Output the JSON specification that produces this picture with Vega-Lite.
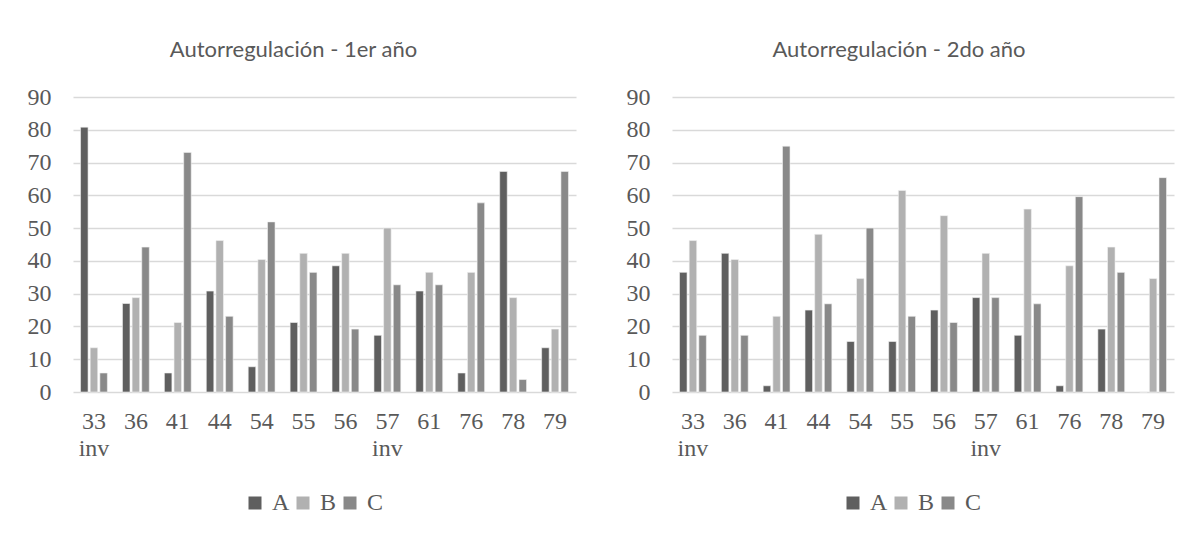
{
  "$schema": "https://vega.github.io/schema/vega-lite/v6.json",
  "background": "white",
  "padding": {"left": 27, "top": 39, "right": 10, "bottom": 0},
  "datasets": {
    "d1": [
      {"cat": "33 inv", "serie": "A", "value": 80.8}, {"cat": "33 inv", "serie": "B", "value": 13.5}, {"cat": "33 inv", "serie": "C", "value": 5.8},
      {"cat": "36", "serie": "A", "value": 27.0}, {"cat": "36", "serie": "B", "value": 28.8}, {"cat": "36", "serie": "C", "value": 44.2},
      {"cat": "41", "serie": "A", "value": 5.8}, {"cat": "41", "serie": "B", "value": 21.2}, {"cat": "41", "serie": "C", "value": 73.1},
      {"cat": "44", "serie": "A", "value": 30.8}, {"cat": "44", "serie": "B", "value": 46.2}, {"cat": "44", "serie": "C", "value": 23.1},
      {"cat": "54", "serie": "A", "value": 7.7}, {"cat": "54", "serie": "B", "value": 40.4}, {"cat": "54", "serie": "C", "value": 51.9},
      {"cat": "55", "serie": "A", "value": 21.2}, {"cat": "55", "serie": "B", "value": 42.3}, {"cat": "55", "serie": "C", "value": 36.5},
      {"cat": "56", "serie": "A", "value": 38.5}, {"cat": "56", "serie": "B", "value": 42.3}, {"cat": "56", "serie": "C", "value": 19.2},
      {"cat": "57 inv", "serie": "A", "value": 17.3}, {"cat": "57 inv", "serie": "B", "value": 50.0}, {"cat": "57 inv", "serie": "C", "value": 32.7},
      {"cat": "61", "serie": "A", "value": 30.8}, {"cat": "61", "serie": "B", "value": 36.5}, {"cat": "61", "serie": "C", "value": 32.7},
      {"cat": "76", "serie": "A", "value": 5.8}, {"cat": "76", "serie": "B", "value": 36.5}, {"cat": "76", "serie": "C", "value": 57.7},
      {"cat": "78", "serie": "A", "value": 67.3}, {"cat": "78", "serie": "B", "value": 28.8}, {"cat": "78", "serie": "C", "value": 3.8},
      {"cat": "79", "serie": "A", "value": 13.5}, {"cat": "79", "serie": "B", "value": 19.2}, {"cat": "79", "serie": "C", "value": 67.3}
    ],
    "d2": [
      {"cat": "33 inv", "serie": "A", "value": 36.5}, {"cat": "33 inv", "serie": "B", "value": 46.2}, {"cat": "33 inv", "serie": "C", "value": 17.3},
      {"cat": "36", "serie": "A", "value": 42.3}, {"cat": "36", "serie": "B", "value": 40.4}, {"cat": "36", "serie": "C", "value": 17.3},
      {"cat": "41", "serie": "A", "value": 1.9}, {"cat": "41", "serie": "B", "value": 23.1}, {"cat": "41", "serie": "C", "value": 75.0},
      {"cat": "44", "serie": "A", "value": 25.0}, {"cat": "44", "serie": "B", "value": 48.1}, {"cat": "44", "serie": "C", "value": 26.9},
      {"cat": "54", "serie": "A", "value": 15.4}, {"cat": "54", "serie": "B", "value": 34.6}, {"cat": "54", "serie": "C", "value": 50.0},
      {"cat": "55", "serie": "A", "value": 15.4}, {"cat": "55", "serie": "B", "value": 61.5}, {"cat": "55", "serie": "C", "value": 23.1},
      {"cat": "56", "serie": "A", "value": 25.0}, {"cat": "56", "serie": "B", "value": 53.8}, {"cat": "56", "serie": "C", "value": 21.2},
      {"cat": "57 inv", "serie": "A", "value": 28.8}, {"cat": "57 inv", "serie": "B", "value": 42.3}, {"cat": "57 inv", "serie": "C", "value": 28.8},
      {"cat": "61", "serie": "A", "value": 17.3}, {"cat": "61", "serie": "B", "value": 55.8}, {"cat": "61", "serie": "C", "value": 26.9},
      {"cat": "76", "serie": "A", "value": 1.9}, {"cat": "76", "serie": "B", "value": 38.5}, {"cat": "76", "serie": "C", "value": 59.6},
      {"cat": "78", "serie": "A", "value": 19.2}, {"cat": "78", "serie": "B", "value": 44.2}, {"cat": "78", "serie": "C", "value": 36.5},
      {"cat": "79", "serie": "A", "value": 0}, {"cat": "79", "serie": "B", "value": 34.6}, {"cat": "79", "serie": "C", "value": 65.4}
    ]
  },
  "hconcat": [
    {
      "data": {"name": "d1"},
      "width": 503,
      "height": 295,
      "title": {"text": "Autorregulación - 1er año", "dx": -31},
      "mark": {"type": "bar", "stroke": "#f2f2f2", "strokeWidth": 0.6},
      "encoding": {
        "x": {"field": "cat", "type": "nominal", "sort": null, "title": null,
              "scale": {"paddingInner": 0.36, "paddingOuter": 0.18},
              "axis": {"labelExpr": "split(datum.label, ' ')", "labelAngle": 0}},
        "xOffset": {"field": "serie", "type": "nominal", "scale": {"paddingInner": 0.22, "paddingOuter": 0}},
        "y": {"field": "value", "type": "quantitative", "title": null,
              "scale": {"domain": [0, 90]},
              "axis": {"values": [0, 10, 20, 30, 40, 50, 60, 70, 80, 90]}},
        "color": {"field": "serie", "type": "nominal",
                  "scale": {"domain": ["A", "B", "C"], "range": ["#5f5f5f", "#b1b1b1", "#898989"]},
                  "legend": {"orient": "none", "legendX": 170, "legendY": 394}}
      }
    },
    {
      "data": {"name": "d2"},
      "width": 502,
      "height": 295,
      "title": {"text": "Autorregulación - 2do año", "dx": -24},
      "mark": {"type": "bar", "stroke": "#f2f2f2", "strokeWidth": 0.6},
      "encoding": {
        "x": {"field": "cat", "type": "nominal", "sort": null, "title": null,
              "scale": {"paddingInner": 0.36, "paddingOuter": 0.18},
              "axis": {"labelExpr": "split(datum.label, ' ')", "labelAngle": 0}},
        "xOffset": {"field": "serie", "type": "nominal", "scale": {"paddingInner": 0.22, "paddingOuter": 0}},
        "y": {"field": "value", "type": "quantitative", "title": null,
              "scale": {"domain": [0, 90]},
              "axis": {"values": [0, 10, 20, 30, 40, 50, 60, 70, 80, 90]}},
        "color": {"field": "serie", "type": "nominal",
                  "scale": {"domain": ["A", "B", "C"], "range": ["#5f5f5f", "#b1b1b1", "#898989"]},
                  "legend": {"orient": "none", "legendX": 169, "legendY": 394}}
      }
    }
  ],
  "spacing": 50,
  "resolve": {"scale": {"color": "independent"}, "legend": {"color": "independent"}},
  "config": {
    "view": {"stroke": null},
    "title": {"font": "Lato", "fontSize": 22, "fontWeight": "normal", "color": "#595959", "offset": 23},
    "axis": {
      "labelFont": "Liberation Serif", "labelFontSize": 24, "labelColor": "#595959",
      "ticks": false, "domain": false, "gridColor": "#d9d9d9", "gridWidth": 1.5
    },
    "axisX": {"grid": false, "labelPadding": 17, "labelLineHeight": 27},
    "axisY": {"labelPadding": 22},
    "legend": {
      "direction": "horizontal", "title": null, "symbolType": "square", "symbolSize": 169,
      "symbolStrokeWidth": 0, "labelFont": "Liberation Serif", "labelFontSize": 24,
      "labelColor": "#595959", "labelOffset": 5, "columnPadding": 1, "padding": 0
    }
  }
}
